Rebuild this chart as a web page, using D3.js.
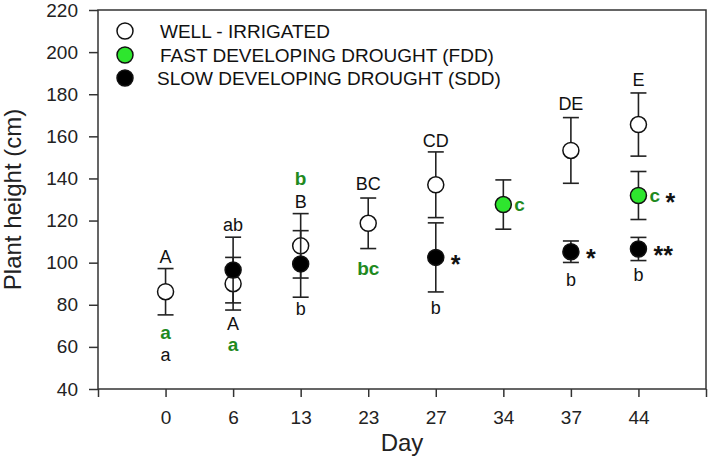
<!DOCTYPE html>
<html>
<head>
<meta charset="utf-8">
<script src="https://cdn.jsdelivr.net/npm/d3@7"></script>
<style>
  html, body { margin: 0; padding: 0; background: #fff; }
  svg { display: block; font-family: Arial, "Liberation Sans", sans-serif; }
</style>
</head>
<body>
<svg id="chart" width="709" height="467"></svg>
<script>
// ---- data ----
const days = ["0", "6", "13", "23", "27", "34", "37", "44"];
const yTicks = [40, 60, 80, 100, 120, 140, 160, 180, 200, 220];

const wellMean = [86.2, 90.0, 108.0, 118.7, 137.0, null, 153.3, 165.6];
const wellErr  = [11.0, 12.5, 15.3, 12.0, 15.6, null, 15.6, 15.0];
const fddMean  = [null, null, null, null, null, 127.6, null, 131.9];
const fddErr   = [null, null, null, null, null, 11.7, null, 11.4];
const sddMean  = [null, 96.5, 99.4, null, 102.5, null, 105.2, 106.5];
const sddErr   = [null, 15.6, 15.8, null, 16.4, null, 5.1, 5.5];

const seriesNames = ["WELL - IRRIGATED", "FAST DEVELOPING DROUGHT (FDD)", "SLOW DEVELOPING DROUGHT (SDD)"];

// significance letters
const letterDay   = ["0","0","0","6","6","6","13","13","13","23","23","27","27","27","34","37","37","37","44","44","44","44","44"];
const letterText  = ["A","a","a","ab","A","a","b","B","b","BC","bc","CD","*","b","c","DE","*","b","E","c","*","**","b"];
const letterValue = [102.7,67.2,56.6,118.0,70.9,61.4,140.2,129.0,78.0,137.4,97.5,157.9,102.5,78.5,127.6,175.4,105.2,92.2,186.8,131.9,131.9,106.5,94.6];
const letterKind  = ["k","g","k","k","k","g","g","k","k","k","g","k","s","k","gr","k","s","k","k","gr","s2","s","k"];

// ---- layout ----
const svg = d3.select("#chart");
const mLeft = 98, mRight = 706, mTop = 10, mBottom = 389;
const x = d3.scaleLinear().domain([-1, days.length]).range([mLeft, mRight]);
const y = d3.scaleLinear().domain([40, 220]).range([mBottom, mTop]);
const axisColor = "#333";
const green = "#2ee62e";
const darkGreen = "#1f8a1f";

// frame
svg.append("rect").attr("x", mLeft).attr("y", mTop).attr("width", mRight - mLeft).attr("height", mBottom - mTop)
  .attr("fill", "none").attr("stroke", axisColor).attr("stroke-width", 1.5);

// y axis
const yAxis = d3.axisLeft(y).tickValues(yTicks).tickSize(9).tickPadding(11).tickFormat(d3.format("d"));
const gy = svg.append("g").attr("transform", `translate(${mLeft},0)`).call(yAxis);
gy.select(".domain").remove();
gy.selectAll("line").attr("stroke", axisColor).attr("stroke-width", 1.5);
gy.selectAll("text").attr("font-size", 19).attr("fill", "#222").style("font-family", "Arial, 'Liberation Sans', sans-serif");

// x axis
const xIdx = d3.range(-1, days.length + 1);
const xAxis = d3.axisBottom(x).tickValues(xIdx).tickSize(8).tickPadding(14)
  .tickFormat(i => (i >= 0 && i < days.length) ? days[i] : "");
const gx = svg.append("g").attr("transform", `translate(0,${mBottom})`).call(xAxis);
gx.select(".domain").remove();
gx.selectAll("line").attr("stroke", axisColor).attr("stroke-width", 1.5);
gx.selectAll("text").attr("font-size", 19).attr("fill", "#222").style("font-family", "Arial, 'Liberation Sans', sans-serif");

// axis titles
svg.append("text").attr("x", (x(3) + x(4)) / 2).attr("y", 451).attr("text-anchor", "middle")
  .attr("font-size", 24).attr("fill", "#222").text("Day");
svg.append("text").attr("transform", `translate(21,${(mTop + mBottom) / 2}) rotate(-90)`).attr("text-anchor", "middle")
  .attr("font-size", 24).attr("fill", "#222").text("Plant height (cm)");

// error bars + points
const series = [
  { mean: wellMean, err: wellErr, fill: "#fff" },
  { mean: sddMean, err: sddErr, fill: "#000" },
  { mean: fddMean, err: fddErr, fill: green }
];
const capW = 8, r = 8;
series.forEach(s => {
  const pts = days.map((d, i) => ({ i, m: s.mean[i], e: s.err[i] })).filter(p => p.m != null);
  const g = svg.append("g");
  pts.forEach(p => {
    const cx = x(p.i);
    g.append("line").attr("x1", cx).attr("x2", cx).attr("y1", y(p.m + p.e)).attr("y2", y(p.m - p.e))
      .attr("stroke", "#222").attr("stroke-width", 1.6);
    [p.m + p.e, p.m - p.e].forEach(v => {
      g.append("line").attr("x1", cx - capW).attr("x2", cx + capW).attr("y1", y(v)).attr("y2", y(v))
        .attr("stroke", "#222").attr("stroke-width", 1.6);
    });
  });
  g.selectAll("circle").data(pts).join("circle")
    .attr("cx", p => x(p.i)).attr("cy", p => y(p.m)).attr("r", r)
    .attr("fill", s.fill).attr("stroke", "#111").attr("stroke-width", 1.5);
});

// letters
letterText.forEach((t, k) => {
  const i = days.indexOf(letterDay[k]);
  const kind = letterKind[k];
  const cx = x(i), cy = y(letterValue[k]);
  const txt = svg.append("text").text(t).attr("font-size", 18);
  if (kind === "k") {
    txt.attr("x", cx).attr("y", cy).attr("dy", "0.36em").attr("text-anchor", "middle").attr("fill", "#111");
  } else if (kind === "g") {
    txt.attr("x", cx).attr("y", cy).attr("dy", "0.36em").attr("text-anchor", "middle")
      .attr("fill", darkGreen).attr("font-weight", "bold").attr("font-size", 19);
  } else if (kind === "gr") {
    txt.attr("x", cx + 11).attr("y", cy).attr("dy", "0.36em").attr("text-anchor", "start")
      .attr("fill", darkGreen).attr("font-weight", "bold").attr("font-size", 19);
  } else if (kind === "s") {
    txt.attr("x", cx + 15).attr("y", cy).attr("dy", "0.62em").attr("text-anchor", "start")
      .attr("fill", "#111").attr("font-weight", "bold").attr("font-size", 25);
  } else if (kind === "s2") {
    txt.attr("x", cx + 27).attr("y", cy).attr("dy", "0.62em").attr("text-anchor", "start")
      .attr("fill", "#111").attr("font-weight", "bold").attr("font-size", 25);
  }
});

// legend
const legFill = ["#fff", green, "#000"];
const legY = [31, 55, 78];
const legTx = [160, 160, 157];
seriesNames.forEach((n, k) => {
  svg.append("circle").attr("cx", 125).attr("cy", legY[k]).attr("r", r)
    .attr("fill", legFill[k]).attr("stroke", "#111").attr("stroke-width", 1.5);
  svg.append("text").attr("x", legTx[k]).attr("y", legY[k]).attr("dy", "0.36em")
    .attr("font-size", 19).attr("fill", "#111").text(n);
});
</script>
</body>
</html>
